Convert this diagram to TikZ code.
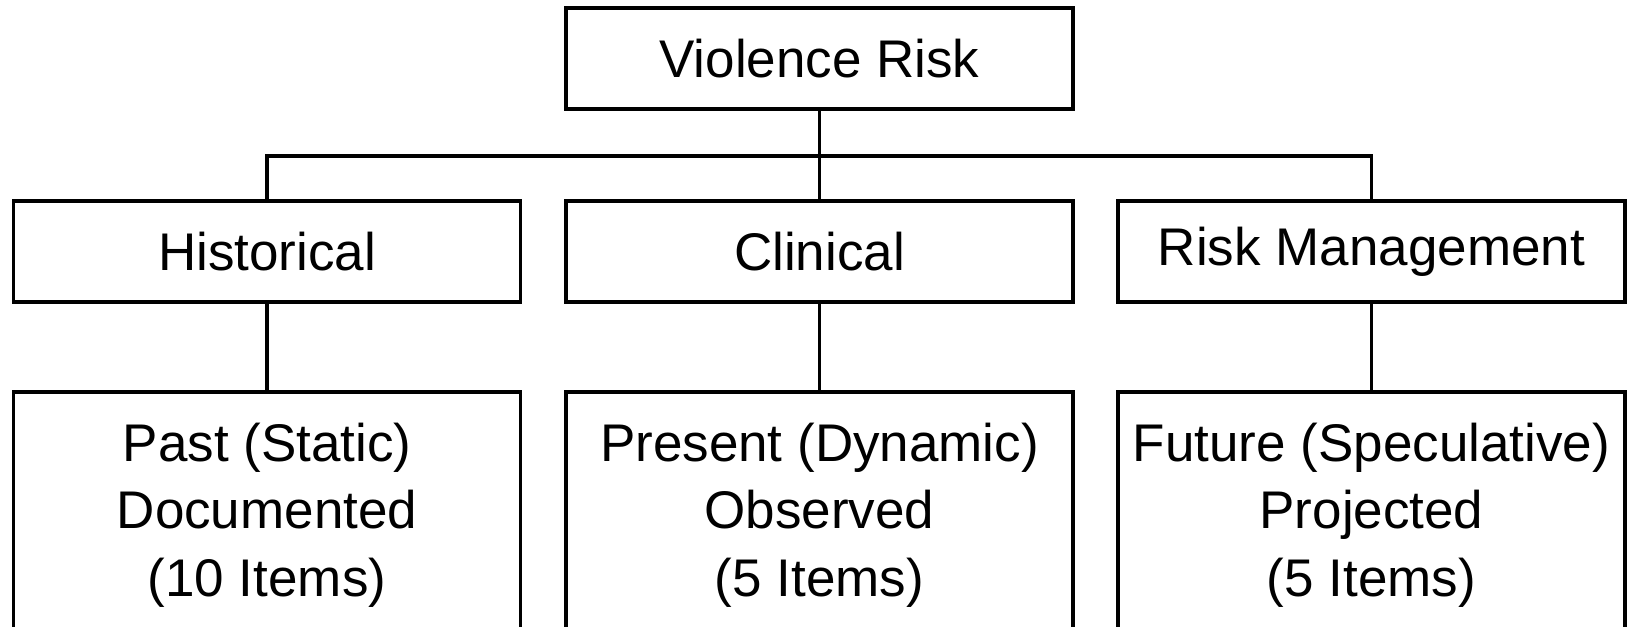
\documentclass[tikz,border=0pt]{standalone}
\usepackage{fontspec}
\setmainfont{Liberation Sans}
\begin{document}
\begin{tikzpicture}[x=0.5pt,y=-0.5pt,
  box/.style={draw=black, line width=1.8pt, fill=white, rectangle,
    minimum width=253.5pt, minimum height=50.5pt, inner sep=0pt,
    font=\fontsize{26.5pt}{33.75pt}\selectfont, align=center},
  tallbox/.style={box, minimum height=123pt},
  link/.style={draw=black, line width=1.8pt}]
\useasboundingbox (0,0) rectangle (1630,627);
\node[box] (top) at (819.5,58.5) {Violence Risk};
\node[box] (hist) at (267,251.5) {Historical};
\node[box] (clin) at (819.5,251.5) {Clinical};
\node[box] (rm) at (1371.5,251.5) {Risk Management};
\node[tallbox] (past) at (267,515) {Past (Static)\\Documented\\(10 Items)};
\node[tallbox] (pres) at (819.5,515) {Present (Dynamic)\\Observed\\(5 Items)};
\node[tallbox] (fut) at (1371.5,515) {Future (Speculative)\\Projected\\(5 Items)};
\coordinate (bus) at (819.5,156);
\draw[link] (top.south) -- (clin.north);
\draw[link] (hist.north) -- (hist.north |- bus) -- (rm.north |- bus) -- (rm.north);
\draw[link] (hist.south) -- (past.north);
\draw[link] (clin.south) -- (pres.north);
\draw[link] (rm.south) -- (fut.north);
\end{tikzpicture}
\end{document}
